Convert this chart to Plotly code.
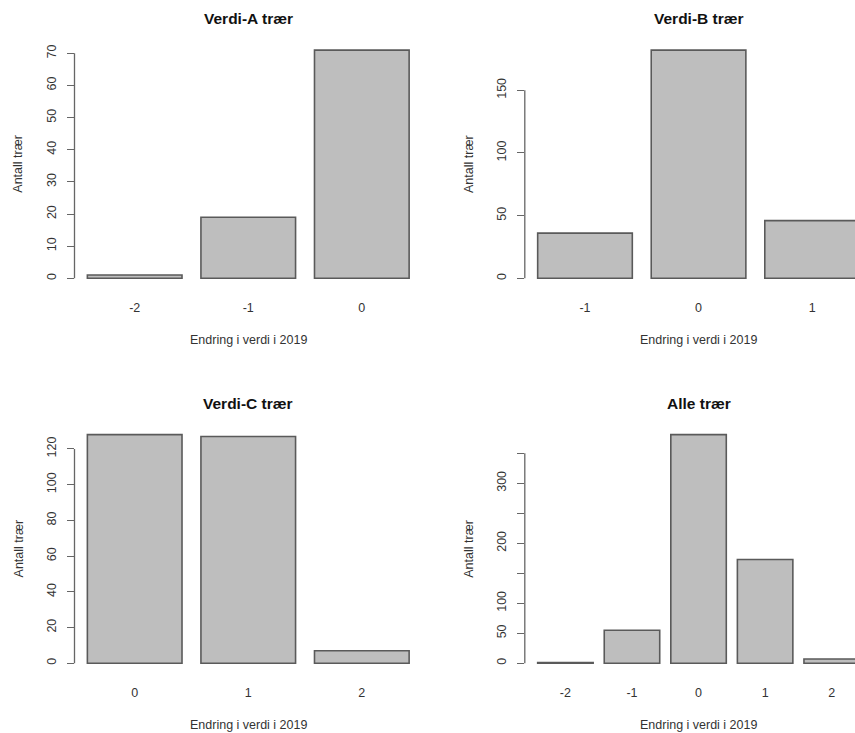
import plotly.graph_objects as go

# ---- data ----
titles = ["Verdi-A trær", "Verdi-B trær", "Verdi-C trær", "Alle trær"]
cats_a = ["-2", "-1", "0"]
vals_a = [1, 19, 71]
cats_b = ["-1", "0", "1"]
vals_b = [36, 182, 46]
cats_c = ["0", "1", "2"]
vals_c = [128, 127, 7]
cats_d = ["-2", "-1", "0", "1", "2"]
vals_d = [1, 55, 381, 173, 7]

ticks_a = [0, 10, 20, 30, 40, 50, 60, 70]
ticks_b = [0, 50, 100, 150]
ticks_c = [0, 20, 40, 60, 80, 100, 120]
ticks_d = [0, 50, 100, 150, 200, 250, 300, 350]
ticktext_d = ["0", "50", "100", "", "200", "", "300", ""]

xlabel = "Endring i verdi i 2019"
ylabel = "Antall trær"

# ---- layout geometry (pixels) ----
W, H = 855, 733
FONT = "Liberation Sans, Arial, sans-serif"
panels = [
    (cats_a, vals_a, ticks_a, None, 74.5, 41.0, 287.4),
    (cats_b, vals_b, ticks_b, None, 524.8, 41.0, 287.4),
    (cats_c, vals_c, ticks_c, None, 74.5, 425.5, 672.4),
    (cats_d, vals_d, ticks_d, ticktext_d, 524.8, 425.5, 672.4),
]
PLOT_W = 347.5

fig = go.Figure()
shapes = []
annotations = []

for i, (cats, vals, tv, tt, left, top, bottom) in enumerate(panels):
    n = len(cats)
    ax = "" if i == 0 else str(i + 1)
    # R barplot: width 1, space 0.2, 4% axis expansion
    d = 1.2 * n - 0.2
    pad = 0.04 * d / 1.2
    x0 = -1 / 2.4 - pad
    x1 = (n - 1) + 1 / 2.4 + pad
    right = left + PLOT_W
    if right > W:
        x1 = x0 + (x1 - x0) * (W - left) / PLOT_W
        right = W
    ymax = max(vals)
    y0, y1 = -0.04 * ymax, 1.04 * ymax

    fig.add_trace(go.Bar(
        x=cats, y=vals, xaxis="x" + ax, yaxis="y" + ax,
        marker=dict(color="#BEBEBE", line=dict(color="#5a5a5a", width=1.6)),
        showlegend=False, hoverinfo="skip",
    ))
    xd = [left / W, right / W]
    yd = [1 - bottom / H, 1 - top / H]
    fig.layout["xaxis" + ax] = dict(
        domain=xd, anchor="y" + ax, type="category", range=[x0, x1],
        showline=False, showgrid=False, zeroline=False, ticks="",
        tickfont=dict(family=FONT, size=12.5, color="#333"),
        ticklabelstandoff=11, fixedrange=True,
    )
    fig.layout["yaxis" + ax] = dict(
        domain=yd, anchor="x" + ax, range=[y0, y1],
        showline=False, showgrid=False, zeroline=False,
        ticks="outside", ticklen=7, tickcolor="#666", tickwidth=1.3,
        tickvals=tv, ticktext=tt if tt else [str(v) for v in tv],
        tickangle=-90, tickfont=dict(family=FONT, size=12.5, color="#333"),
        ticklabelstandoff=6, fixedrange=True,
    )
    # y axis line from first to last tick (R style)
    shapes.append(dict(type="line", xref="x" + ax + " domain", yref="y" + ax,
                       x0=0, x1=0, y0=tv[0], y1=tv[-1],
                       line=dict(color="#666", width=1.3)))
    cx = (left + left + PLOT_W) / 2 / W
    annotations.append(dict(text="<b>" + titles[i] + "</b>", xref="paper", yref="paper",
                            x=cx, y=1 - (top - 22.5) / H, showarrow=False,
                            xanchor="center", yanchor="middle",
                            font=dict(family=FONT, size=15.5, color="#111")))
    annotations.append(dict(text=xlabel, xref="paper", yref="paper",
                            x=cx, y=1 - (bottom + 52.5) / H, showarrow=False,
                            xanchor="center", yanchor="middle",
                            font=dict(family=FONT, size=12.5, color="#333")))
    annotations.append(dict(text=ylabel, xref="paper", yref="paper",
                            x=(left - 56) / W, y=1 - (top + bottom) / 2 / H, showarrow=False,
                            xanchor="center", yanchor="middle", textangle=-90,
                            font=dict(family=FONT, size=12.5, color="#333")))

fig.update_layout(
    width=W, height=H, autosize=False,
    margin=dict(l=0, r=0, t=0, b=0),
    paper_bgcolor="white", plot_bgcolor="white",
    bargap=1 / 6, shapes=shapes, annotations=annotations,
)

fig.write_html("out.html", config={"displayModeBar": False},
               post_script="document.body.style.margin='0px';document.body.style.overflow='hidden';")
